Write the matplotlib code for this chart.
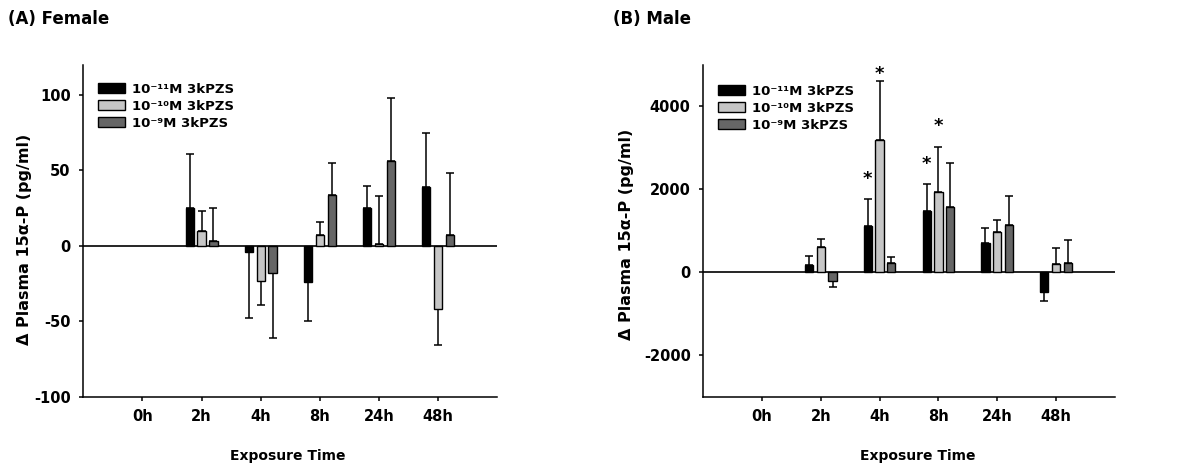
import matplotlib
matplotlib.use('Agg')
import matplotlib.pyplot as plt
import numpy as np

plt.rcParams['font.family'] = ['DejaVu Sans']
plt.rcParams['font.weight'] = 'bold'
plt.rcParams['axes.unicode_minus'] = False

times = ['0h', '2h', '4h', '8h', '24h', '48h']
series = ['10⁻¹¹M 3kPZS', '10⁻¹⁰M 3kPZS', '10⁻⁹M 3kPZS']
colors = ['#000000', '#c6c6c6', '#666666']

# Female: mean change and one-sided SEM
fem_11 = [0, 25, -4, -24, 25, 39]
fem_11_sem = [0, 36, 44, 26, 15, 36]
fem_10 = [0, 10, -23, 7, 1, -42]
fem_10_sem = [0, 13, 16, 9, 32, 24]
fem_9 = [0, 3, -18, 34, 56, 7]
fem_9_sem = [0, 22, 43, 21, 42, 41]

# Male
male_11 = [0, 180, 1120, 1480, 710, -470]
male_11_sem = [0, 200, 640, 640, 360, 220]
male_10 = [0, 600, 3200, 1930, 980, 190]
male_10_sem = [0, 200, 1400, 1100, 270, 390]
male_9 = [0, -200, 215, 1565, 1140, 225]
male_9_sem = [0, 160, 145, 1060, 700, 555]

# significance stars on male panel: (time index, series index, y)
male_stars = [(2, 0, 2250), (2, 1, 4780), (3, 0, 2620), (3, 1, 3530)]

offsets = [-0.2, 0.0, 0.2]
bar_w = 0.14


def draw_panel(ax, means, sems, ylim, yticks, stars=()):
    x = np.arange(len(times))
    ax.axhline(0, color='black', lw=1.2, zorder=1)
    for i, (m, s) in enumerate(zip(means, sems)):
        m = np.array(m, dtype=float)
        s = np.array(s, dtype=float)
        xs = x + offsets[i]
        keep = (s > 0) | (m != 0)  # 0h is the baseline, nothing drawn
        ax.bar(xs[keep], m[keep], width=bar_w, color=colors[i], edgecolor='black',
               linewidth=1.0, label=series[i], zorder=3)
        lower = np.where(m < 0, s, 0)[keep]
        upper = np.where(m >= 0, s, 0)[keep]
        ax.errorbar(xs[keep], m[keep], yerr=[lower, upper], fmt='none',
                    ecolor='black', elinewidth=1.1, capsize=3.2,
                    capthick=1.1, zorder=2)
    for ti, si, y in stars:
        ax.text(x[ti] + offsets[si], y, '*', ha='center', va='center',
                fontsize=13, fontweight='bold')
    ax.set_xlim(-1, 6)
    ax.set_ylim(*ylim)
    ax.set_xticks(x)
    ax.set_xticklabels(times)
    ax.set_yticks(yticks)
    ax.spines['top'].set_visible(False)
    ax.spines['right'].set_visible(False)
    for sp in ('left', 'bottom'):
        ax.spines[sp].set_linewidth(1.1)
    ax.tick_params(direction='out', length=3, width=1.1, labelsize=10.5, pad=6)
    for lab in ax.get_xticklabels() + ax.get_yticklabels():
        lab.set_fontweight('bold')
    ax.set_xlabel('Exposure Time', fontsize=10, fontweight='bold')
    ax.set_ylabel('Δ Plasma 15α-P (pg/ml)', fontsize=11.5, fontweight='bold')


fig = plt.figure(figsize=(12, 4.7), dpi=100)
ax1 = fig.add_axes([0.0694, 0.156, 0.345, 0.706])
ax2 = fig.add_axes([0.586, 0.156, 0.343, 0.706])

draw_panel(ax1, [fem_11, fem_10, fem_9], [fem_11_sem, fem_10_sem, fem_9_sem],
           (-100, 120), [-100, -50, 0, 50, 100])
draw_panel(ax2, [male_11, male_10, male_9], [male_11_sem, male_10_sem, male_9_sem],
           (-3000, 5000), [-2000, 0, 2000, 4000], male_stars)

ax1.yaxis.set_label_coords(-0.125, 0.475)
ax2.yaxis.set_label_coords(-0.168, 0.49)
ax1.xaxis.set_label_coords(0.493, -0.157)
ax2.xaxis.set_label_coords(0.522, -0.157)

for ax, ya in ((ax1, 0.946), (ax2, 0.94)):
    ax.legend(loc='upper left', bbox_to_anchor=(0.035, ya), frameon=False,
              borderpad=0, borderaxespad=0, handlelength=2.1,
              handleheight=0.85, handletextpad=0.5, labelspacing=0.3,
              prop={'size': 9.5, 'weight': 'bold'})

fig.text(0.007, 0.978, '(A) Female', ha='left', va='top', fontsize=12, fontweight='bold')
fig.text(0.511, 0.978, '(B) Male', ha='left', va='top', fontsize=12, fontweight='bold')

fig.savefig('out.png', dpi=100)
